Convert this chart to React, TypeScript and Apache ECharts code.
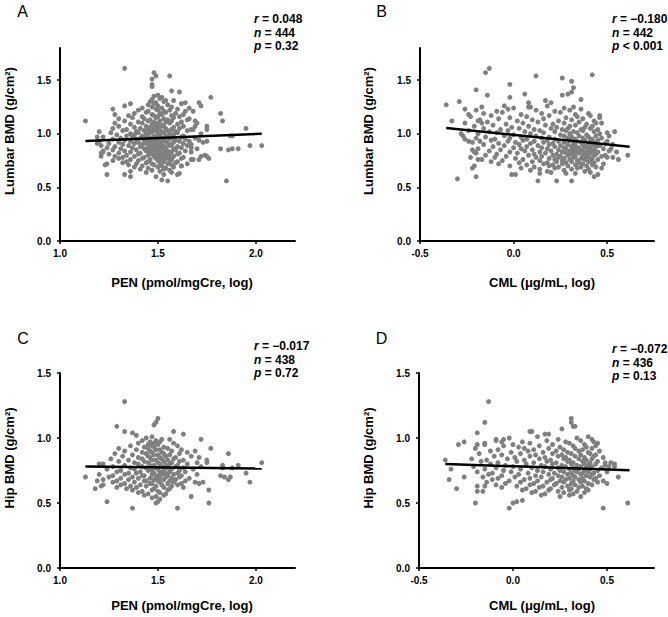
import React, { useEffect, useRef } from "react";
import * as echarts from "echarts";

const FONT = '"Liberation Sans", Arial, Helvetica, sans-serif';

// Tick labels
const penTicks = [1.0, 1.5, 2.0];
const cmlTicks = [-0.5, 0.0, 0.5];
const lumbarTicks = [0.0, 0.5, 1.0, 1.5];
const hipTicks = [0.0, 0.5, 1.0, 1.5];

// Axis titles
const penTitle = "PEN (pmol/mgCre, log)";
const cmlTitle = "CML (μg/mL, log)";
const lumbarTitle = "Lumbar BMD (g/cm²)";
const hipTitle = "Hip BMD (g/cm²)";

// Statistics
const statsA = ["0.048", "444", "= 0.32"];
const statsB = ["−0.180", "442", "< 0.001"];
const statsC = ["−0.017", "438", "= 0.72"];
const statsD = ["−0.072", "436", "= 0.13"];

// Regression lines (endpoints)
const lineA: [number, number][] = [[1.13, 0.933], [2.03, 1.0]];
const lineB: [number, number][] = [[-0.36, 1.053], [0.62, 0.88]];
const lineC: [number, number][] = [[1.13, 0.78], [2.03, 0.765]];
const lineD: [number, number][] = [[-0.36, 0.80], [0.62, 0.752]];

// A: Lumbar BMD vs PEN
const lumbarVsPen: [number, number][] = [
  [1.33,1.61],[1.13,1.12],[1.48,1.57],[1.49,1.54],[1.56,1.54],[1.47,1.51],[1.47,1.46],[1.47,1.44],[1.57,1.40],[1.61,1.39],[1.77,1.34],[1.82,1.19],[1.83,1.12],[1.95,1.05],[1.97,0.89],[2.03,0.89],[1.91,0.86],[1.88,0.86],[1.86,0.85],[1.82,0.86],[1.85,0.56],[1.87,0.98],[1.88,0.98],[1.24,0.62],[1.23,0.71],[1.36,0.60],[1.33,0.62],[1.49,0.60],[1.52,0.57],[1.55,0.56],[1.53,0.62],[1.60,0.62],
  [1.20,1.02],[1.19,0.97],[1.19,0.91],[1.21,0.82],[1.21,0.79],[1.22,0.84],[1.24,0.72],[1.27,1.23],[1.28,1.18],[1.33,1.26],[1.36,1.28],
  [1.69,1.12],[1.69,1.07],[1.67,1.04],[1.75,1.07],[1.75,1.04],[1.75,0.93],[1.71,0.94],[1.75,0.79],[1.76,0.77],[1.72,0.79],[1.71,0.76],[1.72,1.26],[1.71,1.29],[1.68,1.21],[1.64,1.29],[1.64,1.21],[1.65,1.13],[1.66,0.93],[1.67,0.87],[1.67,0.76],[1.62,0.70],[1.61,0.63],
  [1.48,1.35],[1.50,1.36],[1.52,1.34],[1.47,1.32],[1.51,1.33],[1.54,1.31],[1.46,1.30],[1.49,1.29],[1.53,1.30],[1.58,1.31],
  [1.45,1.27],[1.48,1.28],[1.50,1.26],[1.55,1.27],[1.62,1.28],[1.42,1.24],[1.47,1.25],[1.49,1.23],[1.52,1.24],[1.57,1.25],[1.66,1.24],
  [1.40,1.22],[1.45,1.21],[1.50,1.22],[1.53,1.21],[1.56,1.22],[1.60,1.23],[1.38,1.19],[1.44,1.20],[1.47,1.18],[1.51,1.19],[1.54,1.20],[1.59,1.19],[1.63,1.18],
  [1.35,1.17],[1.42,1.16],[1.48,1.17],[1.50,1.16],[1.52,1.18],[1.57,1.17],[1.61,1.16],
  [1.30,1.14],[1.37,1.15],[1.43,1.14],[1.46,1.13],[1.49,1.15],[1.53,1.14],[1.55,1.13],[1.58,1.15],[1.66,1.14],
  [1.33,1.12],[1.40,1.11],[1.45,1.12],[1.48,1.11],[1.51,1.12],[1.54,1.11],[1.57,1.12],[1.62,1.11],
  [1.28,1.10],[1.36,1.09],[1.42,1.10],[1.47,1.09],[1.50,1.10],[1.52,1.08],[1.56,1.10],[1.60,1.09],[1.70,1.10],
  [1.30,1.07],[1.38,1.06],[1.44,1.07],[1.46,1.06],[1.49,1.07],[1.51,1.06],[1.53,1.07],[1.58,1.06],[1.63,1.07],
  [1.27,1.05],[1.34,1.04],[1.41,1.05],[1.45,1.04],[1.48,1.05],[1.50,1.04],[1.54,1.05],[1.57,1.04],[1.61,1.05],[1.68,1.04],
  [1.32,1.03],[1.39,1.02],[1.43,1.03],[1.47,1.02],[1.49,1.03],[1.52,1.02],[1.55,1.03],[1.59,1.02],[1.65,1.03],
  [1.26,1.01],[1.36,1.00],[1.40,1.01],[1.44,1.00],[1.46,1.01],[1.50,1.00],[1.53,1.01],[1.56,1.00],[1.60,1.01],[1.72,1.00],
  [1.29,0.99],[1.34,0.98],[1.38,0.99],[1.42,0.98],[1.45,0.99],[1.48,0.98],[1.51,0.99],[1.54,0.98],[1.58,0.99],[1.63,0.98],
  [1.22,0.97],[1.31,0.96],[1.37,0.97],[1.41,0.96],[1.44,0.97],[1.47,0.96],[1.49,0.97],[1.52,0.96],[1.55,0.97],[1.57,0.96],[1.62,0.97],[1.69,0.96],
  [1.27,0.95],[1.33,0.94],[1.39,0.95],[1.43,0.94],[1.46,0.95],[1.48,0.94],[1.50,0.95],[1.53,0.94],[1.56,0.95],[1.59,0.94],[1.64,0.95],
  [1.20,0.93],[1.30,0.92],[1.36,0.93],[1.40,0.92],[1.45,0.93],[1.47,0.92],[1.49,0.93],[1.51,0.92],[1.54,0.93],[1.58,0.92],[1.61,0.93],[1.73,0.92],
  [1.25,0.91],[1.32,0.90],[1.38,0.91],[1.42,0.90],[1.44,0.91],[1.48,0.90],[1.50,0.91],[1.52,0.90],[1.55,0.91],[1.57,0.90],[1.63,0.91],[1.67,0.90],
  [1.21,0.89],[1.28,0.88],[1.35,0.89],[1.41,0.88],[1.46,0.89],[1.49,0.88],[1.51,0.89],[1.53,0.88],[1.56,0.89],[1.60,0.88],[1.65,0.89],
  [1.24,0.87],[1.31,0.86],[1.37,0.87],[1.43,0.86],[1.45,0.87],[1.47,0.86],[1.50,0.87],[1.52,0.86],[1.54,0.87],[1.58,0.86],[1.62,0.87],[1.70,0.86],
  [1.27,0.85],[1.33,0.84],[1.39,0.85],[1.44,0.84],[1.48,0.85],[1.50,0.84],[1.53,0.85],[1.55,0.84],[1.59,0.85],[1.64,0.84],
  [1.22,0.83],[1.30,0.82],[1.36,0.83],[1.41,0.82],[1.46,0.83],[1.49,0.82],[1.51,0.83],[1.54,0.82],[1.57,0.83],[1.61,0.82],[1.67,0.83],
  [1.25,0.81],[1.34,0.80],[1.40,0.81],[1.45,0.80],[1.47,0.81],[1.50,0.80],[1.52,0.81],[1.56,0.80],[1.60,0.81],[1.74,0.80],
  [1.28,0.79],[1.32,0.78],[1.38,0.79],[1.43,0.78],[1.48,0.79],[1.51,0.78],[1.53,0.79],[1.55,0.78],[1.58,0.79],[1.63,0.78],
  [1.30,0.77],[1.36,0.76],[1.42,0.77],[1.46,0.76],[1.49,0.77],[1.52,0.76],[1.54,0.77],[1.57,0.76],[1.62,0.77],[1.68,0.76],
  [1.27,0.75],[1.34,0.74],[1.40,0.75],[1.45,0.74],[1.50,0.75],[1.53,0.74],[1.56,0.75],[1.60,0.74],
  [1.32,0.73],[1.39,0.72],[1.44,0.73],[1.47,0.72],[1.51,0.73],[1.55,0.72],[1.59,0.73],[1.65,0.72],
  [1.35,0.71],[1.42,0.70],[1.48,0.71],[1.52,0.70],[1.57,0.71],[1.62,0.70],
  [1.38,0.69],[1.45,0.68],[1.50,0.69],[1.54,0.68],[1.58,0.69],
  [1.41,0.67],[1.47,0.66],[1.53,0.67],[1.56,0.66],[1.36,0.65],[1.44,0.64],[1.51,0.65],[1.57,0.64],
];

// B: Lumbar BMD vs CML
const lumbarVsCml: [number, number][] = [
  [-0.13,1.61],[-0.15,1.57],[0.12,1.54],[0.26,1.52],[0.42,1.55],[0.31,1.49],[0.32,1.43],[0.31,1.39],[0.29,1.37],[0.26,1.36],[-0.02,1.46],[-0.20,1.41],[-0.14,1.36],[-0.36,1.27],[-0.29,1.30],[-0.26,1.23],[-0.02,1.34],[0.06,1.37],[0.08,1.29],[0.09,1.25],[0.17,1.31],[0.20,1.29],[0.36,1.32],[0.46,1.17],[0.54,1.02],[0.56,0.76],[0.61,0.80],[0.48,0.72],[-0.30,0.58],[-0.20,0.60],[-0.21,0.70],[-0.26,0.95],[-0.24,0.93],[-0.33,1.12],[-0.01,0.62],[0.01,0.62],[0.13,0.56],[0.23,0.56],[0.31,0.56],[0.43,0.60],[0.45,0.62],[0.14,0.63],[0.28,0.63],
  [-0.22,0.85],[-0.21,0.83],[-0.18,0.93],[-0.19,1.12],[-0.17,1.10],[-0.24,1.18],[-0.28,1.00],[-0.23,0.78],[-0.19,0.76],[-0.22,0.68],
  [0.50,0.93],[0.52,0.86],[0.49,0.80],[0.53,0.78],[0.47,1.10],[0.51,0.98],[0.55,0.83],[0.47,0.68],
  [-0.17,1.25],[-0.05,1.26],[0.00,1.24],[0.08,1.25],[0.18,1.26],[0.27,1.24],[0.32,1.25],
  [-0.20,1.22],[-0.09,1.21],[-0.03,1.23],[0.12,1.22],[0.22,1.21],[0.30,1.22],[0.36,1.23],
  [-0.16,1.19],[-0.06,1.20],[0.04,1.18],[0.15,1.19],[0.25,1.20],[0.33,1.18],[0.40,1.19],
  [-0.23,1.16],[-0.12,1.17],[-0.02,1.15],[0.07,1.16],[0.19,1.17],[0.28,1.15],[0.34,1.16],[0.41,1.17],[0.46,1.15],
  [-0.18,1.13],[-0.08,1.14],[0.02,1.12],[0.10,1.13],[0.16,1.14],[0.24,1.12],[0.31,1.13],[0.37,1.14],[0.43,1.12],
  [-0.26,1.10],[-0.14,1.11],[-0.04,1.09],[0.05,1.10],[0.13,1.11],[0.21,1.09],[0.27,1.10],[0.35,1.11],[0.39,1.09],[0.44,1.10],
  [-0.21,1.07],[-0.11,1.08],[-0.01,1.06],[0.08,1.07],[0.17,1.08],[0.23,1.06],[0.30,1.07],[0.33,1.08],[0.38,1.06],[0.42,1.07],
  [-0.16,1.05],[-0.07,1.04],[0.03,1.05],[0.11,1.04],[0.20,1.05],[0.26,1.04],[0.29,1.05],[0.36,1.04],[0.41,1.05],[0.45,1.04],
  [-0.24,1.03],[-0.13,1.02],[-0.03,1.03],[0.06,1.02],[0.14,1.03],[0.22,1.02],[0.28,1.03],[0.32,1.02],[0.37,1.03],[0.43,1.02],
  [-0.19,1.00],[-0.09,1.01],[0.00,0.99],[0.09,1.00],[0.16,1.01],[0.25,0.99],[0.30,1.00],[0.34,1.01],[0.39,0.99],[0.46,1.00],[0.50,1.01],
  [-0.27,0.98],[-0.15,0.97],[-0.05,0.98],[0.04,0.97],[0.12,0.98],[0.19,0.97],[0.27,0.98],[0.31,0.97],[0.35,0.98],[0.40,0.97],[0.44,0.98],
  [-0.20,0.96],[-0.10,0.95],[-0.02,0.96],[0.07,0.95],[0.15,0.96],[0.22,0.95],[0.29,0.96],[0.33,0.95],[0.37,0.96],[0.42,0.95],[0.47,0.96],
  [-0.12,0.94],[-0.03,0.93],[0.05,0.94],[0.11,0.93],[0.18,0.94],[0.24,0.93],[0.30,0.94],[0.34,0.93],[0.38,0.94],[0.41,0.93],[0.45,0.94],
  [-0.22,0.92],[-0.08,0.91],[0.01,0.92],[0.09,0.91],[0.16,0.92],[0.21,0.91],[0.27,0.92],[0.32,0.91],[0.36,0.92],[0.40,0.91],[0.43,0.92],[0.49,0.91],
  [-0.16,0.90],[-0.05,0.89],[0.03,0.90],[0.13,0.89],[0.19,0.90],[0.25,0.89],[0.29,0.90],[0.33,0.89],[0.37,0.90],[0.39,0.88],[0.42,0.90],[0.46,0.89],[0.53,0.90],
  [-0.11,0.88],[0.00,0.87],[0.07,0.88],[0.15,0.87],[0.22,0.88],[0.27,0.87],[0.31,0.88],[0.35,0.87],[0.38,0.88],[0.41,0.87],[0.44,0.88],
  [-0.19,0.86],[-0.07,0.85],[0.04,0.86],[0.10,0.85],[0.18,0.86],[0.24,0.85],[0.28,0.86],[0.32,0.85],[0.34,0.86],[0.37,0.85],[0.40,0.86],[0.43,0.85],[0.48,0.86],
  [-0.13,0.84],[-0.02,0.83],[0.06,0.84],[0.14,0.83],[0.20,0.84],[0.26,0.83],[0.30,0.84],[0.33,0.83],[0.36,0.84],[0.39,0.83],[0.42,0.84],[0.45,0.83],[0.51,0.84],
  [-0.20,0.82],[-0.09,0.81],[0.02,0.82],[0.11,0.81],[0.17,0.82],[0.23,0.81],[0.28,0.82],[0.31,0.81],[0.35,0.82],[0.38,0.81],[0.41,0.82],[0.44,0.81],
  [-0.15,0.80],[-0.04,0.79],[0.08,0.80],[0.15,0.79],[0.21,0.80],[0.25,0.79],[0.29,0.80],[0.33,0.79],[0.37,0.80],[0.40,0.79],[0.43,0.80],[0.47,0.79],
  [-0.10,0.78],[0.01,0.77],[0.12,0.78],[0.19,0.77],[0.24,0.78],[0.27,0.77],[0.32,0.78],[0.36,0.77],[0.39,0.78],[0.42,0.77],[0.50,0.78],
  [-0.17,0.76],[-0.06,0.75],[0.05,0.76],[0.14,0.75],[0.22,0.76],[0.26,0.75],[0.30,0.76],[0.34,0.75],[0.38,0.76],[0.41,0.75],[0.45,0.76],
  [-0.12,0.74],[0.03,0.73],[0.10,0.74],[0.18,0.73],[0.23,0.74],[0.28,0.73],[0.31,0.74],[0.35,0.73],[0.40,0.74],[0.43,0.73],
  [-0.08,0.72],[0.07,0.71],[0.16,0.72],[0.21,0.71],[0.26,0.72],[0.33,0.71],[0.37,0.72],[0.42,0.71],
  [-0.02,0.70],[0.11,0.69],[0.19,0.70],[0.24,0.69],[0.29,0.70],[0.36,0.69],[0.39,0.70],[0.44,0.69],
  [0.04,0.68],[0.14,0.67],[0.22,0.68],[0.31,0.67],[0.34,0.68],[0.40,0.67],
  [0.09,0.66],[0.18,0.65],[0.27,0.66],[0.38,0.65],[0.20,0.64],[0.33,0.63],[0.41,0.64],
];

// C: Hip BMD vs PEN
const hipVsPen: [number, number][] = [
  [1.33,1.28],[1.29,1.09],[1.33,1.05],[1.37,1.04],[1.39,1.02],[1.50,1.15],[1.49,1.12],[1.48,1.10],[1.58,1.05],[1.63,1.03],[1.72,0.99],[1.77,0.92],[1.69,0.90],[1.71,0.85],[1.75,0.83],[1.75,0.81],[1.86,0.88],[1.91,0.79],[2.03,0.81],[1.83,0.79],[1.83,0.77],[1.88,0.77],[1.95,0.73],[1.97,0.66],[1.82,0.71],[1.84,0.70],[1.86,0.68],[1.87,0.70],[1.13,0.70],[1.19,0.67],[1.18,0.61],[1.21,0.63],[1.22,0.64],[1.24,0.51],[1.37,0.46],[1.49,0.50],[1.50,0.51],[1.60,0.46],[1.76,0.50],[1.76,0.60],[1.67,0.55],[1.73,0.66],[1.71,0.65],[1.21,0.79],[1.20,0.80],
  [1.44,1.00],[1.47,1.01],[1.52,0.99],[1.42,0.98],[1.46,0.97],[1.49,0.98],[1.56,0.99],
  [1.40,0.96],[1.45,0.95],[1.48,0.96],[1.51,0.97],[1.58,0.96],
  [1.36,0.94],[1.43,0.93],[1.47,0.94],[1.50,0.95],[1.53,0.93],[1.60,0.94],
  [1.30,0.92],[1.39,0.91],[1.45,0.92],[1.48,0.93],[1.51,0.91],[1.55,0.92],[1.62,0.91],
  [1.33,0.90],[1.42,0.89],[1.46,0.90],[1.49,0.91],[1.52,0.89],[1.57,0.90],[1.65,0.89],
  [1.28,0.88],[1.37,0.87],[1.44,0.88],[1.47,0.89],[1.50,0.87],[1.53,0.88],[1.56,0.87],[1.61,0.88],
  [1.32,0.86],[1.40,0.85],[1.45,0.86],[1.48,0.87],[1.51,0.85],[1.54,0.86],[1.59,0.85],[1.67,0.86],
  [1.26,0.84],[1.35,0.83],[1.42,0.84],[1.46,0.85],[1.49,0.83],[1.52,0.84],[1.55,0.83],[1.58,0.84],[1.63,0.83],
  [1.30,0.82],[1.38,0.81],[1.43,0.82],[1.47,0.83],[1.50,0.81],[1.53,0.82],[1.57,0.81],[1.61,0.82],[1.70,0.81],
  [1.22,0.80],[1.33,0.79],[1.40,0.80],[1.45,0.81],[1.48,0.79],[1.51,0.80],[1.54,0.79],[1.56,0.80],[1.60,0.79],[1.65,0.80],
  [1.27,0.78],[1.36,0.77],[1.42,0.78],[1.46,0.79],[1.49,0.77],[1.52,0.78],[1.55,0.77],[1.59,0.78],[1.63,0.77],[1.72,0.78],
  [1.24,0.76],[1.31,0.75],[1.38,0.76],[1.44,0.77],[1.47,0.75],[1.50,0.76],[1.53,0.75],[1.57,0.76],[1.61,0.75],[1.68,0.76],
  [1.29,0.74],[1.35,0.73],[1.41,0.74],[1.45,0.75],[1.48,0.73],[1.51,0.74],[1.54,0.73],[1.56,0.74],[1.60,0.73],[1.64,0.74],
  [1.20,0.72],[1.27,0.71],[1.33,0.72],[1.39,0.73],[1.43,0.71],[1.47,0.72],[1.50,0.71],[1.52,0.72],[1.55,0.71],[1.58,0.72],[1.62,0.71],[1.70,0.72],
  [1.25,0.70],[1.31,0.69],[1.37,0.70],[1.42,0.71],[1.46,0.69],[1.49,0.70],[1.51,0.69],[1.54,0.70],[1.57,0.69],[1.61,0.70],[1.66,0.69],
  [1.22,0.68],[1.29,0.67],[1.35,0.68],[1.40,0.69],[1.44,0.67],[1.48,0.68],[1.50,0.67],[1.53,0.68],[1.56,0.67],[1.59,0.68],[1.64,0.67],
  [1.27,0.66],[1.33,0.65],[1.38,0.66],[1.43,0.67],[1.47,0.65],[1.51,0.66],[1.55,0.65],[1.58,0.66],[1.62,0.65],[1.69,0.66],
  [1.31,0.64],[1.36,0.63],[1.41,0.64],[1.46,0.65],[1.49,0.63],[1.52,0.64],[1.57,0.63],[1.60,0.64],
  [1.29,0.62],[1.34,0.61],[1.39,0.62],[1.44,0.63],[1.48,0.61],[1.53,0.62],[1.56,0.61],[1.63,0.62],
  [1.37,0.60],[1.42,0.59],[1.47,0.60],[1.50,0.59],[1.55,0.60],[1.40,0.58],[1.45,0.57],[1.51,0.58],[1.54,0.57],
  [1.43,0.56],[1.49,0.55],[1.53,0.56],[1.47,0.54],[1.51,0.53],
];

// D: Hip BMD vs CML
const hipVsCml: [number, number][] = [
  [-0.13,1.28],[-0.15,1.12],[-0.19,1.04],[-0.29,0.95],[-0.26,0.97],[-0.19,0.95],[-0.15,0.95],[-0.36,0.83],[-0.33,0.76],[-0.34,0.68],[-0.30,0.61],[-0.26,0.70],[-0.20,0.50],[-0.19,0.59],[-0.19,0.63],[-0.16,0.59],[-0.15,0.63],[-0.02,0.46],[0.00,0.50],[0.02,0.51],[0.05,0.52],[0.09,1.05],[0.10,1.05],[0.17,1.03],[0.19,1.03],[0.31,1.15],[0.31,1.12],[0.32,1.09],[0.33,1.09],[0.26,1.07],[0.42,0.99],[0.48,0.46],[0.61,0.50],[0.56,0.70],[0.50,0.65],[0.54,0.80],[0.49,0.81],[0.51,0.78],[-0.09,0.99],[-0.05,0.99],[-0.06,0.97],
  [-0.02,1.00],[0.13,1.01],[0.24,0.99],[0.34,1.00],[0.40,1.01],
  [-0.09,0.98],[0.05,0.97],[0.18,0.98],[0.28,0.97],[0.36,0.98],[0.43,0.97],
  [-0.15,0.96],[0.00,0.95],[0.09,0.96],[0.21,0.95],[0.30,0.96],[0.38,0.95],[0.45,0.96],
  [-0.05,0.94],[0.03,0.93],[0.14,0.94],[0.25,0.93],[0.32,0.94],[0.39,0.93],[0.44,0.94],
  [-0.20,0.92],[-0.08,0.91],[0.06,0.92],[0.11,0.91],[0.19,0.92],[0.27,0.91],[0.33,0.92],[0.37,0.91],[0.42,0.92],
  [-0.12,0.90],[-0.01,0.89],[0.08,0.90],[0.16,0.89],[0.23,0.90],[0.29,0.89],[0.35,0.90],[0.40,0.89],[0.46,0.90],
  [-0.18,0.88],[-0.06,0.87],[0.04,0.88],[0.12,0.87],[0.21,0.88],[0.26,0.87],[0.31,0.88],[0.36,0.87],[0.41,0.88],[0.44,0.87],
  [-0.10,0.86],[0.01,0.85],[0.09,0.86],[0.17,0.85],[0.24,0.86],[0.28,0.85],[0.33,0.86],[0.38,0.85],[0.43,0.86],[0.48,0.85],
  [-0.22,0.84],[-0.14,0.83],[-0.03,0.84],[0.06,0.83],[0.14,0.84],[0.20,0.83],[0.27,0.84],[0.30,0.83],[0.35,0.84],[0.39,0.83],[0.42,0.84],
  [-0.17,0.82],[-0.08,0.81],[0.02,0.82],[0.11,0.81],[0.18,0.82],[0.23,0.81],[0.29,0.82],[0.32,0.81],[0.37,0.82],[0.41,0.81],[0.45,0.82],[0.52,0.81],
  [-0.12,0.80],[-0.04,0.79],[0.07,0.80],[0.15,0.79],[0.21,0.80],[0.26,0.79],[0.31,0.80],[0.34,0.79],[0.38,0.80],[0.40,0.79],[0.44,0.80],[0.49,0.79],
  [-0.21,0.78],[-0.09,0.77],[0.00,0.78],[0.10,0.77],[0.17,0.78],[0.24,0.77],[0.28,0.78],[0.32,0.77],[0.36,0.78],[0.39,0.77],[0.42,0.78],[0.47,0.77],[0.54,0.78],
  [-0.15,0.76],[-0.05,0.75],[0.04,0.76],[0.13,0.75],[0.20,0.76],[0.25,0.75],[0.30,0.76],[0.33,0.75],[0.35,0.76],[0.38,0.75],[0.41,0.76],[0.45,0.75],
  [-0.19,0.74],[-0.11,0.73],[-0.01,0.74],[0.08,0.73],[0.16,0.74],[0.22,0.73],[0.27,0.74],[0.31,0.73],[0.34,0.74],[0.37,0.73],[0.40,0.74],[0.43,0.73],[0.50,0.74],
  [-0.13,0.72],[-0.06,0.71],[0.03,0.72],[0.12,0.71],[0.19,0.72],[0.24,0.71],[0.29,0.72],[0.32,0.71],[0.36,0.72],[0.39,0.71],[0.42,0.72],[0.46,0.71],
  [-0.16,0.70],[-0.08,0.69],[0.01,0.70],[0.09,0.69],[0.15,0.70],[0.21,0.69],[0.26,0.70],[0.30,0.69],[0.33,0.70],[0.37,0.69],[0.41,0.70],[0.44,0.69],
  [-0.11,0.68],[-0.02,0.67],[0.06,0.68],[0.13,0.67],[0.20,0.68],[0.25,0.67],[0.28,0.68],[0.32,0.67],[0.35,0.68],[0.38,0.67],[0.43,0.68],[0.48,0.67],
  [-0.14,0.66],[-0.04,0.65],[0.04,0.66],[0.11,0.65],[0.18,0.66],[0.23,0.65],[0.27,0.66],[0.31,0.65],[0.36,0.66],[0.40,0.65],[0.45,0.66],
  [-0.09,0.64],[0.02,0.63],[0.09,0.64],[0.16,0.63],[0.22,0.64],[0.29,0.63],[0.33,0.64],[0.37,0.63],[0.42,0.64],
  [-0.06,0.62],[0.07,0.61],[0.14,0.62],[0.20,0.61],[0.26,0.62],[0.31,0.61],[0.35,0.62],[0.39,0.61],
  [0.05,0.60],[0.12,0.59],[0.19,0.60],[0.24,0.59],[0.30,0.60],[0.34,0.59],[0.40,0.60],
  [0.10,0.58],[0.17,0.57],[0.27,0.58],[0.32,0.57],[0.38,0.58],[0.15,0.56],[0.25,0.55],[0.30,0.56],[0.36,0.55],
];

const BLACK = "#000";
const DOT = "#808080";

function xAxisFor(gridIndex: number, min: number, max: number, ticks: number[]) {
  return {
    gridIndex,
    type: "value",
    min,
    max,
    axisLine: { show: true, onZero: false, lineStyle: { color: BLACK, width: 2 } },
    axisTick: { show: true, length: 3, customValues: ticks, lineStyle: { color: BLACK, width: 1.5 } },
    axisLabel: {
      customValues: ticks,
      formatter: (v: number) => v.toFixed(1),
      margin: 7,
      fontSize: 10,
      fontWeight: "bold",
      fontFamily: FONT,
      color: BLACK,
    },
    splitLine: { show: false },
  };
}

function yAxisFor(gridIndex: number, min: number, max: number, ticks: number[]) {
  return {
    gridIndex,
    type: "value",
    min,
    max,
    axisLine: { show: true, onZero: false, lineStyle: { color: BLACK, width: 2 } },
    axisTick: { show: true, length: 3, customValues: ticks, lineStyle: { color: BLACK, width: 1.5 } },
    axisLabel: {
      customValues: ticks,
      formatter: (v: number) => v.toFixed(1),
      margin: 9,
      fontSize: 10,
      fontWeight: "bold",
      fontFamily: FONT,
      color: BLACK,
    },
    splitLine: { show: false },
  };
}

function statText(x: number, y: number, label: string, rest: string) {
  return {
    type: "text",
    x,
    y,
    style: {
      text: `{i|${label}}{b| ${rest}}`,
      verticalAlign: "middle",
      align: "left",
      rich: {
        i: { fontStyle: "italic", fontWeight: "bold", fontSize: 12, fontFamily: FONT, fill: BLACK },
        b: { fontWeight: "bold", fontSize: 12, fontFamily: FONT, fill: BLACK },
      },
    },
  };
}

function statBlock(x: number, y: number, s: string[]) {
  return [
    statText(x, y, "r", `= ${s[0]}`),
    statText(x, y + 13.5, "n", `= ${s[1]}`),
    statText(x, y + 27, "p", s[2]),
  ];
}

function plain(text: string, x: number, y: number, size: number, bold: boolean, rotate = 0) {
  return {
    type: "text",
    x,
    y,
    rotation: rotate,
    style: {
      text,
      fontSize: size,
      fontWeight: bold ? "bold" : "normal",
      fontFamily: FONT,
      fill: BLACK,
      align: "center",
      verticalAlign: "middle",
    },
  };
}

export default function App() {
  const ref = useRef<HTMLDivElement>(null);

  useEffect(() => {
    document.body.style.margin = "0";
    if (!ref.current) return;
    const chart = echarts.init(ref.current, undefined, { renderer: "svg" });

    const scatter = (i: number, data: [number, number][]) => ({
      type: "scatter",
      xAxisIndex: i,
      yAxisIndex: i,
      data,
      symbolSize: 5,
      itemStyle: { color: DOT, opacity: 1 },
      z: 2,
      silent: true,
    });
    const reg = (i: number, data: [number, number][]) => ({
      type: "line",
      xAxisIndex: i,
      yAxisIndex: i,
      data,
      symbol: "none",
      lineStyle: { color: BLACK, width: 2.5 },
      z: 3,
      silent: true,
    });

    chart.setOption({
      animation: false,
      backgroundColor: "#fff",
      grid: [
        { left: 60, top: 48, width: 235, height: 193 },
        { left: 420, top: 48, width: 234, height: 193 },
        { left: 60, top: 373, width: 235, height: 195 },
        { left: 419, top: 373, width: 235, height: 195 },
      ],
      xAxis: [
        xAxisFor(0, 1.0, 2.2, penTicks),
        xAxisFor(1, -0.5, 0.75, cmlTicks),
        xAxisFor(2, 1.0, 2.2, penTicks),
        xAxisFor(3, -0.5, 0.75, cmlTicks),
      ],
      yAxis: [
        yAxisFor(0, 0, 1.8, lumbarTicks),
        yAxisFor(1, 0, 1.8, lumbarTicks),
        yAxisFor(2, 0, 1.5, hipTicks),
        yAxisFor(3, 0, 1.5, hipTicks),
      ],
      series: [
        scatter(0, lumbarVsPen),
        reg(0, lineA),
        scatter(1, lumbarVsCml),
        reg(1, lineB),
        scatter(2, hipVsPen),
        reg(2, lineC),
        scatter(3, hipVsCml),
        reg(3, lineD),
      ],
      graphic: [
        plain("A", 22.5, 11, 16, false),
        plain("B", 381.5, 11, 16, false),
        plain("C", 23, 338, 16, false),
        plain("D", 381.5, 338, 16, false),
        ...statBlock(254, 19, statsA),
        ...statBlock(612, 19, statsB),
        ...statBlock(254, 346, statsC),
        ...statBlock(612, 349, statsD),
        plain(lumbarTitle, 9, 131, 13, true, Math.PI / 2),
        plain(lumbarTitle, 368, 131, 13, true, Math.PI / 2),
        plain(hipTitle, 9, 458, 13, true, Math.PI / 2),
        plain(hipTitle, 368, 458, 13, true, Math.PI / 2),
        plain(penTitle, 182, 282, 13, true),
        plain(cmlTitle, 542, 282, 13, true),
        plain(penTitle, 182, 605, 13, true),
        plain(cmlTitle, 542, 605, 13, true),
      ],
    });

    return () => chart.dispose();
  }, []);

  return <div ref={ref} style={{ width: 668, height: 617 }} />;
}
